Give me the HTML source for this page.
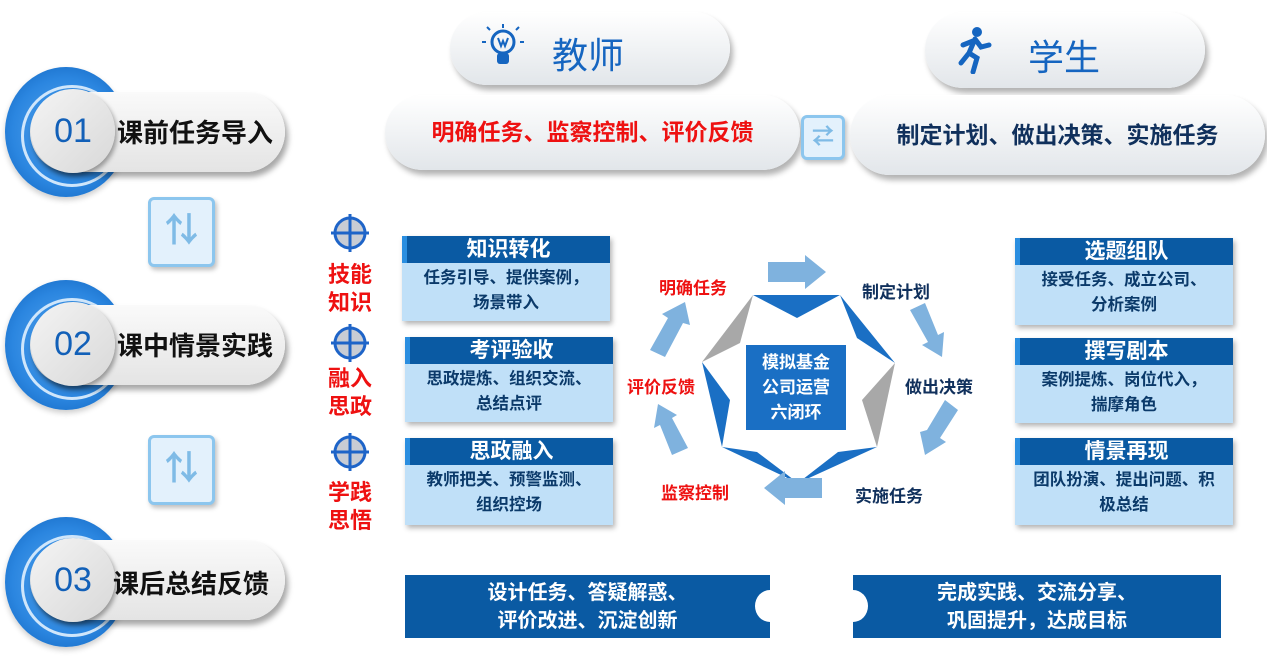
<!DOCTYPE html>
<html><head><meta charset="utf-8"><style>
*{margin:0;padding:0;box-sizing:border-box}
body{width:1267px;height:666px;background:#fff;position:relative;overflow:hidden;font-family:"Liberation Sans","Noto Sans CJK SC",sans-serif}
.a{position:absolute}
.ring{position:absolute;width:122px;height:130px;border-radius:50%;background:radial-gradient(circle at 50% 50%,#5aa9f0 0,#2b86e0 60%,#0d5fb8 100%);box-shadow:0 3px 6px rgba(0,0,0,.2)}
.ring:after{content:"";position:absolute;left:16px;top:18px;width:96px;height:96px;border-radius:50%;border:3px solid #cfe6fb}
.pill{position:absolute;height:80px;width:255px;border-radius:40px;background:linear-gradient(#fafafa,#e4e4e4);box-shadow:3px 5px 6px rgba(0,0,0,.35)}
.num{position:absolute;width:84px;height:84px;border-radius:50%;background:linear-gradient(135deg,#f4f4f4,#d8d8d8);box-shadow:2px 3px 5px rgba(0,0,0,.35);color:#1260b8;font-size:34px;text-align:center;line-height:84px}
.lt{position:absolute;font-size:26px;font-weight:bold;color:#111}
.ud{position:absolute;width:67px;height:70px;border:3px solid #8cc6ee;border-radius:6px;background:#e3f1fc;box-shadow:2px 3px 5px rgba(0,0,0,.25);color:#7fbbe6;font-size:34px;text-align:center;line-height:62px;font-weight:bold}
.bar{position:absolute;border-radius:40px;background:linear-gradient(#fff,#e2e6ea);box-shadow:3px 5px 6px rgba(0,0,0,.3);text-align:center;font-weight:bold;font-size:23px}
.box{position:absolute;width:208px;box-shadow:2px 3px 5px rgba(0,0,0,.3);background:#c0e0f8}
.box .h{background:#0a5aa3;color:#fff;font-weight:bold;font-size:21px;text-align:center;height:27px;line-height:27px;border-left:5px solid #2a8ee0}
.box .b{color:#0b3a6a;font-weight:bold;font-size:16.5px;text-align:center;line-height:25px;padding-top:3px}
.red{color:#e11;font-weight:bold}
.lab{position:absolute;font-weight:bold;font-size:17px}
.bot{position:absolute;top:575px;height:63px;background:#0a5aa3;color:#fff;font-weight:bold;font-size:20px;text-align:center;line-height:28px;padding-top:4px}
</style></head><body>

<div class="ring" style="left:5px;top:67px"></div>
<div class="pill" style="left:30px;top:92px"></div>
<div class="num" style="left:31px;top:89px">01</div>
<div class="lt" style="left:117px;top:113px">课前任务导入</div>
<div class="ud" style="left:148px;top:197px">⇅</div>

<div class="ring" style="left:5px;top:280px"></div>
<div class="pill" style="left:30px;top:305px"></div>
<div class="num" style="left:31px;top:302px">02</div>
<div class="lt" style="left:117px;top:326px">课中情景实践</div>
<div class="ud" style="left:148px;top:435px">⇅</div>

<div class="ring" style="left:5px;top:517px"></div>
<div class="pill" style="left:30px;top:540px"></div>
<div class="num" style="left:31px;top:538px">03</div>
<div class="lt" style="left:113px;top:564px">课后总结反馈</div>

<div class="bar" style="left:450px;top:12px;width:280px;height:73px"></div>
<svg class="a" style="left:478px;top:22px" width="50" height="50" viewBox="0 0 50 50"><circle cx="25" cy="20" r="11" fill="none" stroke="#1565c0" stroke-width="3"/><rect x="19" y="31" width="12" height="11" rx="3" fill="#1565c0"/><path d="M20 16l3 8 2-5 2 5 3-8" fill="none" stroke="#1565c0" stroke-width="2"/><g stroke="#1565c0" stroke-width="2"><line x1="25" y1="2" x2="25" y2="6"/><line x1="8" y1="20" x2="4" y2="20"/><line x1="42" y1="20" x2="46" y2="20"/><line x1="12" y1="8" x2="9" y2="5"/><line x1="38" y1="8" x2="41" y2="5"/></g></svg>
<div class="a" style="left:552px;top:27px;font-size:36px;color:#1565c0">教师</div>

<div class="bar" style="left:925px;top:12px;width:280px;height:76px"></div>
<svg class="a" style="left:955px;top:26px" width="40" height="48" viewBox="0 0 40 48"><circle cx="22" cy="6" r="5" fill="#1565c0"/><path d="M20 13l-6 14 8 5-4 14M18 15l-10 4M20 13l6 8 8-2M14 27l-8 10" stroke="#1565c0" stroke-width="5" fill="none" stroke-linecap="round"/></svg>
<div class="a" style="left:1028px;top:29px;font-size:36px;color:#1565c0">学生</div>

<div class="bar red" style="left:385px;top:95px;width:415px;height:75px;line-height:75px">明确任务、监察控制、评价反馈</div>
<div class="ud" style="left:801px;top:115px;width:44px;height:45px;font-size:22px;line-height:38px">⇄</div>
<div class="bar" style="left:850px;top:95px;width:415px;height:80px;line-height:80px;color:#10305c">制定计划、做出决策、实施任务</div>

<svg class="a" style="left:328px;top:212px" width="44" height="260" viewBox="0 0 44 260">
<g fill="#c8ccd4" stroke="#1e64c8" stroke-width="3">
<circle cx="22" cy="21" r="15"/><circle cx="22" cy="131" r="15"/><circle cx="22" cy="240" r="15"/></g>
<g stroke="#1e64c8" stroke-width="3">
<line x1="22" y1="2" x2="22" y2="40"/><line x1="3" y1="21" x2="41" y2="21"/>
<line x1="22" y1="112" x2="22" y2="150"/><line x1="3" y1="131" x2="41" y2="131"/>
<line x1="22" y1="221" x2="22" y2="259"/><line x1="3" y1="240" x2="41" y2="240"/></g></svg>
<div class="a red" style="left:328px;top:261px;font-size:22px;line-height:28px">技能<br>知识</div>
<div class="a red" style="left:328px;top:365px;font-size:22px;line-height:28px">融入<br>思政</div>
<div class="a red" style="left:328px;top:479px;font-size:22px;line-height:28px">学践<br>思悟</div>

<div class="box" style="left:402px;top:236px;height:85px"><div class="h">知识转化</div><div class="b">任务引导、提供案例，<br>场景带入</div></div>
<div class="box" style="left:405px;top:337px;height:85px"><div class="h">考评验收</div><div class="b">思政提炼、组织交流、<br>总结点评</div></div>
<div class="box" style="left:405px;top:438px;height:87px"><div class="h">思政融入</div><div class="b">教师把关、预警监测、<br>组织控场</div></div>

<div class="box" style="left:1015px;top:238px;height:87px;width:218px"><div class="h">选题组队</div><div class="b">接受任务、成立公司、<br>分析案例</div></div>
<div class="box" style="left:1015px;top:338px;height:85px;width:218px"><div class="h">撰写剧本</div><div class="b">案例提炼、岗位代入，<br>揣摩角色</div></div>
<div class="box" style="left:1015px;top:438px;height:87px;width:218px"><div class="h">情景再现</div><div class="b">团队扮演、提出问题、积<br>极总结</div></div>

<svg class="a" style="left:600px;top:250px" width="400" height="270" viewBox="600 250 400 270">
<g fill="#1a6fc4">
<polygon points="753,295 840,295 797,318"/>
<polygon points="840,295 895,363 857,338"/>
<polygon points="877,447 798,483 838,452"/>
<polygon points="722,447 798,483 757,452"/>
<polygon points="702,362 722,447 730,400"/>
</g>
<g fill="#a8a8a8">
<polygon points="753,295 702,362 740,343"/>
<polygon points="895,363 877,447 862,400"/>
</g>
<g fill="#7fb2de">
<polygon points="768,262 805,262 805,255 826,272 805,289 805,282 768,282"/>
<polygon points="822,478 785,478 785,471 764,488 785,505 785,498 822,498"/>
<polygon points="910,310 925,303 938,335 944,332 942,357 922,345 928,342"/>
<polygon points="945,400 958,410 940,438 946,442 925,455 920,432 927,430"/>
<polygon points="665,357 650,350 668,318 662,314 685,302 690,325 683,323"/>
<polygon points="688,448 672,455 660,425 654,428 658,404 677,415 672,418"/>
</g>
</svg>
<div class="a" style="left:746px;top:345px;width:100px;height:85px;background:#1a6fc4;color:#fff;font-weight:bold;font-size:17px;text-align:center;line-height:25px;padding-top:5px">模拟基金<br>公司运营<br>六闭环</div>
<div class="lab red" style="left:659px;top:274px">明确任务</div>
<div class="lab" style="left:862px;top:278px;color:#10305c">制定计划</div>
<div class="lab" style="left:905px;top:373px;color:#10305c">做出决策</div>
<div class="lab" style="left:855px;top:482px;color:#10305c">实施任务</div>
<div class="lab red" style="left:661px;top:479px">监察控制</div>
<div class="lab red" style="left:627px;top:373px">评价反馈</div>

<div class="bot" style="left:405px;width:365px">设计任务、答疑解惑、<br>评价改进、沉淀创新</div>
<div class="a" style="left:755px;top:590px;width:30px;height:32px;border-radius:50%;background:#fff"></div>
<div class="bot" style="left:853px;width:368px">完成实践、交流分享、<br>巩固提升，达成目标</div>
<div class="a" style="left:838px;top:590px;width:30px;height:32px;border-radius:50%;background:#fff"></div>
</body></html>
